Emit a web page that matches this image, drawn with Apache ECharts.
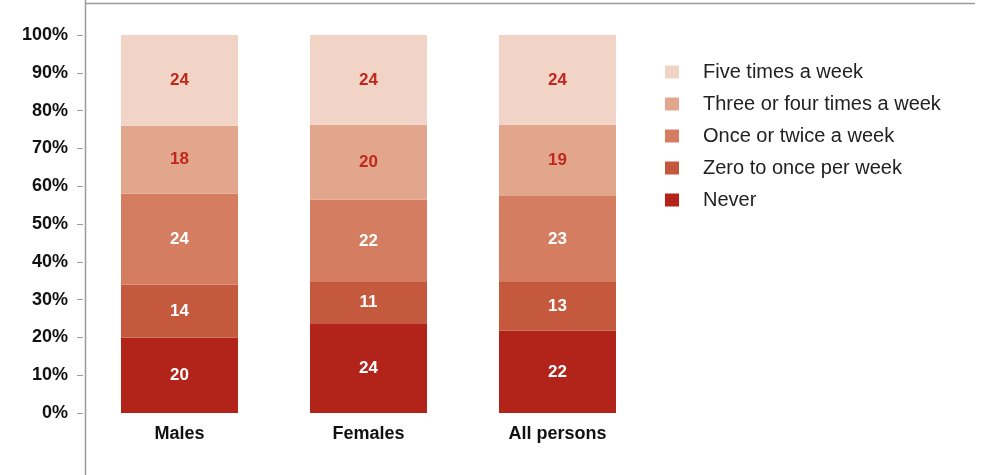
<!DOCTYPE html>
<html><head><meta charset="utf-8">
<script src="https://cdn.jsdelivr.net/npm/echarts@6/dist/echarts.min.js"></script>
<style>html,body{margin:0;padding:0;background:#fff}#c{width:981px;height:475px}</style>
</head><body><div id="c"></div>
<script>
var categories = ['Males', 'Females', 'All persons'];
var seriesNames = ['Never', 'Zero to once per week', 'Once or twice a week', 'Three or four times a week', 'Five times a week'];
var never = [20, 24, 22];
var zeroToOnce = [14, 11, 13];
var onceOrTwice = [24, 22, 23];
var threeOrFour = [18, 20, 19];
var fiveTimes = [24, 24, 24];
var yTicks = [0, 10, 20, 30, 40, 50, 60, 70, 80, 90, 100];

var colors = ['#b22319', '#c5593d', '#d47d60', '#e2a68d', '#f1d4c6'];
var labelColors = ['#ffffff', '#ffffff', '#ffffff', '#c0281e', '#c0281e'];
var raw = [never, zeroToOnce, onceOrTwice, threeOrFour, fiveTimes];
var totals = categories.map(function (c, i) { return raw.reduce(function (s, a) { return s + a[i]; }, 0); });
var font = '"Liberation Sans", Arial, sans-serif';

var series = raw.map(function (arr, k) {
  return {
    name: seriesNames[k], type: 'bar', stack: 'total', barWidth: 117,
    itemStyle: { color: colors[k] },
    data: arr.map(function (v, i) { return { value: v / totals[i] * 100, raw: v }; }),
    label: {
      show: true, position: 'inside', color: labelColors[k], fontWeight: 'bold', fontSize: 17, fontFamily: font,
      formatter: function (p) { return p.data.raw; }
    }
  };
});

var chart = echarts.init(document.getElementById('c'));
chart.setOption({
  animation: false,
  grid: { left: 85, right: 329, top: 35, bottom: 62 },
  xAxis: {
    type: 'category', data: categories,
    axisLine: { show: false }, axisTick: { show: false },
    axisLabel: { color: '#111', fontWeight: 'bold', fontSize: 18, fontFamily: font, margin: 12 }
  },
  yAxis: {
    type: 'value', min: 0, max: 100, interval: 10, offset: 2,
    axisLine: { show: false },
    axisTick: { show: true, length: 6, lineStyle: { color: '#999' } },
    splitLine: { show: false },
    axisLabel: { color: '#111', fontWeight: 'bold', fontSize: 18, fontFamily: font, margin: 15,
      formatter: function (v) { return yTicks.indexOf(v) >= 0 ? v + '%' : ''; } }
  },
  legend: {
    orient: 'vertical', left: 665, top: 62, padding: 0, itemWidth: 14, itemHeight: 13, itemGap: 12,
    icon: 'rect',
    data: seriesNames.slice().reverse(),
    textStyle: { fontSize: 20, color: '#222', fontFamily: font, lineHeight: 20, padding: [0, 0, 0, 19] }
  },
  graphic: [
    { type: 'line', shape: { x1: 85.5, y1: 0, x2: 85.5, y2: 475 }, style: { stroke: '#9a9a9a', lineWidth: 1.5 } },
    { type: 'line', shape: { x1: 85, y1: 3.5, x2: 975, y2: 3.5 }, style: { stroke: '#9a9a9a', lineWidth: 1.5 } }
  ],
  series: series
});
</script></body></html>
